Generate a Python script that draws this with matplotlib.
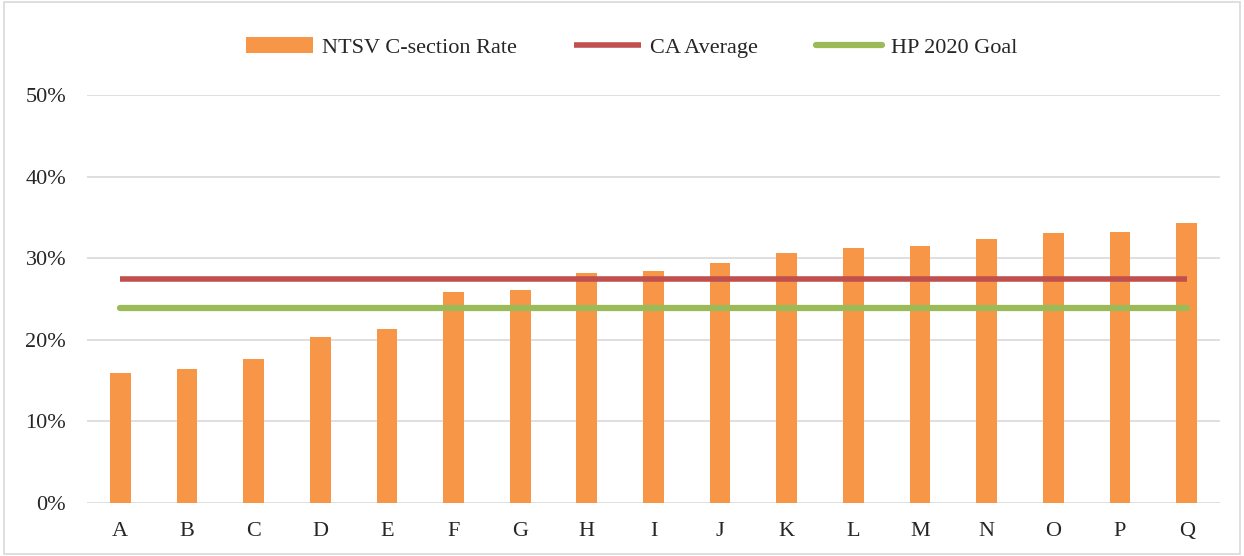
import numpy as np
import matplotlib.pyplot as plt
from matplotlib.patches import Rectangle

plt.rcParams['font.family'] = ['Liberation Serif', 'DejaVu Serif']

# data
hospitals = list("ABCDEFGHIJKLMNOPQ")
ntsv_rate = [0.159, 0.164, 0.176, 0.203, 0.213, 0.259, 0.261, 0.282, 0.284,
             0.294, 0.306, 0.312, 0.315, 0.323, 0.331, 0.332, 0.343]
ca_average = 0.275
hp2020_goal = 0.239

orange = '#F79646'
red = '#C0504D'
green = '#9BBB59'
txt = '#262626'

fig = plt.figure(figsize=(12.44, 5.56), dpi=100)
ax = fig.add_axes([0.0699, 0.0953, 0.9108, 0.7337])

x = np.arange(len(hospitals))
bars = ax.bar(x, ntsv_rate, width=0.31, color=orange, zorder=2, label='NTSV C-section Rate')
l1, = ax.plot([x[0], x[-1]], [ca_average] * 2, color=red, lw=4, solid_capstyle='butt',
              zorder=3, label='CA Average')
l2, = ax.plot([x[0], x[-1]], [hp2020_goal] * 2, color=green, lw=4.5, solid_capstyle='round',
              zorder=3, label='HP 2020 Goal')

ax.set_xlim(-0.5, len(hospitals) - 0.5)
ax.set_ylim(0, 0.5)
ax.set_yticks(np.arange(0, 0.51, 0.1))
ax.set_yticklabels([f'{int(round(v * 100))}%' for v in np.arange(0, 0.51, 0.1)])
ax.set_xticks(x)
ax.set_xticklabels(hospitals)
ax.tick_params(axis='both', length=0, labelsize=16, colors=txt)
ax.tick_params(axis='y', pad=15)
ax.tick_params(axis='x', pad=14)
ax.grid(axis='y', color='#D9D9D9', lw=1.2, zorder=0)
for s in ax.spines.values():
    s.set_visible(False)

leg = fig.legend([bars, l1, l2], ['NTSV C-section Rate', 'CA Average', 'HP 2020 Goal'],
                 loc='center', bbox_to_anchor=(0.508, 0.915), ncol=3, frameon=False,
                 fontsize=16, handlelength=3.0, columnspacing=2.6, handletextpad=0.4)
for t in leg.get_texts():
    t.set_color(txt)

fig.patches.append(Rectangle((0.003, 0.003), 0.994, 0.994, transform=fig.transFigure,
                             fill=False, edgecolor='#D9D9D9', lw=1.2))

fig.savefig('out.png', dpi=100)
